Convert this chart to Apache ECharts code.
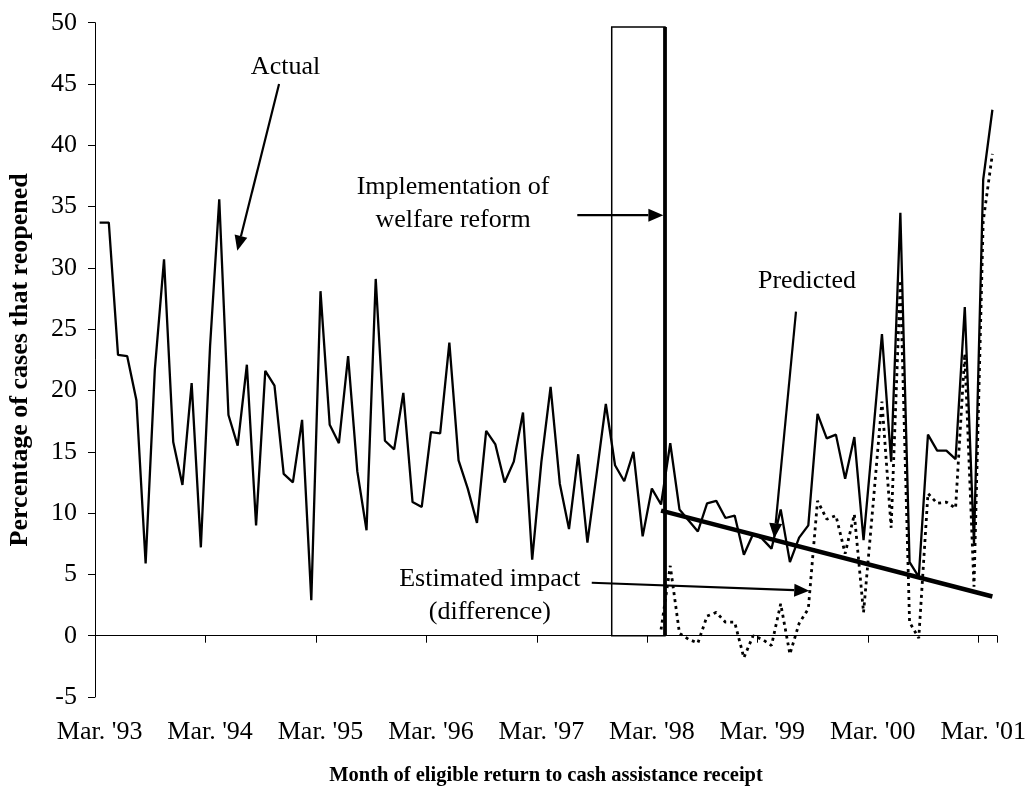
<!DOCTYPE html>
<html><head><meta charset="utf-8">
<script src="https://cdn.jsdelivr.net/npm/echarts@6/dist/echarts.min.js"></script>
<style>html,body{margin:0;padding:0;background:#fff}#c{width:1028px;height:795px}</style>
</head><body><div id="c"></div><script>
// ---- data ----
const tickLabels = ["Mar. '93","Mar. '94","Mar. '95","Mar. '96","Mar. '97","Mar. '98","Mar. '99","Mar. '00","Mar. '01"];
const monthAbbr = ["Mar.","Apr.","May","Jun.","Jul.","Aug.","Sep.","Oct.","Nov.","Dec.","Jan.","Feb."];
const actual = [
  33.7,33.7,22.9,22.8,19.2,5.9,21.7,30.7,15.8,12.3,20.6,7.2,
  23.6,35.6,18.0,15.5,22.1,9.0,21.6,20.4,13.2,12.5,17.6,2.9,
  28.1,17.2,15.7,22.8,13.4,8.6,29.1,15.9,15.2,19.8,10.9,10.5,
  16.6,16.5,23.9,14.3,12.0,9.2,16.7,15.6,12.5,14.2,18.2,6.2,
  14.2,20.3,12.4,8.7,14.8,7.6,13.2,18.9,13.9,12.6,15.0,8.1,
  12.0,10.7,15.7,10.3,9.4,8.5,10.8,11.0,9.6,9.8,6.6,8.3,
  7.9,7.1,10.3,6.0,8.0,9.0,18.1,16.1,16.4,12.8,16.2,7.8,
  16.1,24.6,14.2,34.5,6.0,4.8,16.4,15.1,15.1,14.4,26.8,7.5,
  37.2,42.9
];
const predictedIdx = [61, 97];
const predictedVal = [10.2, 3.2];
const impactStart = 61;
const impact = [
  0.5,5.7,0.2,-0.3,-0.6,1.6,1.9,1.1,1.1,-1.8,0.0,-0.3,
  -0.8,2.6,-1.5,1.0,2.2,11.0,9.5,9.8,6.7,9.9,1.9,10.4,
  19.1,8.8,29.0,1.1,-0.2,11.6,10.8,10.9,10.4,23.0,4.0,33.8,
  39.3
];

// ---- build ----
const cats = actual.map((_, i) => i % 12 === 0 ? tickLabels[i / 12]
  : monthAbbr[i % 12] + " '" + String((93 + Math.floor((i + 2) / 12)) % 100).padStart(2, '0'));
const predSeries = actual.map(() => null);
predictedIdx.forEach((k, j) => { predSeries[k] = predictedVal[j]; });
const impactSeries = actual.map((_, i) => i >= impactStart ? impact[i - impactStart] : null);

const FONT = '"Liberation Serif","Times New Roman",serif';
const chart = echarts.init(document.getElementById('c'), null, {renderer: 'canvas'});
const option = {
  animation: false,
  backgroundColor: '#fff',
  grid: {left: 95, right: 31, top: 22.7, bottom: 98, containLabel: false, outerBoundsMode: 'none'},
  xAxis: [{
    type: 'category', data: cats, boundaryGap: true, position: 'bottom',
    axisLine: {show: false, onZero: false}, axisTick: {show: false},
    axisLabel: {interval: 11, fontSize: 26, fontFamily: FONT, color: '#000', margin: 22},
    name: 'Month of eligible return to cash assistance receipt',
    nameLocation: 'middle', nameGap: 68,
    nameTextStyle: {fontSize: 20.5, fontWeight: 'bold', fontFamily: FONT, color: '#000'}
  }, {
    type: 'category', data: cats, boundaryGap: true, position: 'top',
    axisLine: {show: true, onZero: true, lineStyle: {color: '#000', width: 1}},
    axisTick: {show: true, interval: 11, inside: true, length: 7, lineStyle: {color: '#000'}},
    axisLabel: {show: false}
  }],
  yAxis: {
    type: 'value', min: -5, max: 50, interval: 5,
    axisLine: {show: true, onZero: false, lineStyle: {color: '#000', width: 1}},
    axisTick: {show: true, length: 7, lineStyle: {color: '#000'}},
    splitLine: {show: false},
    axisLabel: {fontSize: 26, fontFamily: FONT, color: '#000', margin: 18},
    name: 'Percentage of cases that reopened', nameLocation: 'middle', nameGap: 62,
    nameTextStyle: {fontSize: 26, fontWeight: 'bold', fontFamily: FONT, color: '#000'}
  },
  series: [{
    name: 'Actual', type: 'line', data: actual, symbol: 'none',
    lineStyle: {color: '#000', width: 2.3}, z: 3
  }, {
    name: 'Predicted', type: 'line', data: predSeries, symbol: 'none', connectNulls: true,
    lineStyle: {color: '#000', width: 4.5}, z: 4
  }, {
    name: 'Estimated impact', type: 'line', data: impactSeries, symbol: 'none',
    lineStyle: {color: '#000', width: 2.8, type: [3, 4]}, z: 2
  }]
};
chart.setOption(option);

// ---- annotations (positions in data units: [category index, value]) ----
const ann = {
  actualText: [20.2, 46.4], actualFrom: [19.5, 45.0], actualTo: [14.96, 31.4],
  implText: [38.4, 35.2], implFrom: [51.9, 34.3], implTo: [61.25, 34.3],
  boxLeft: 55.64, boxRight: 61.43, boxTop: 49.65,
  predText: [76.86, 28.9], predFrom: [75.66, 26.43], predTo: [73.3, 7.94],
  estText: [42.4, 3.24], estFrom: [53.47, 4.32], estTo: [77.1, 3.67]
};
const xa = chart.convertToPixel({xAxisIndex: 0}, 0);
const xb = chart.convertToPixel({xAxisIndex: 0}, 97);
const px = f => xa + (xb - xa) * f / 97;
const py = v => chart.convertToPixel({yAxisIndex: 0}, v);
const P = p => [px(p[0]), py(p[1])];

function arrow(a, b) {
  const [x1, y1] = P(a), [x2, y2] = P(b);
  const dx = x2 - x1, dy = y2 - y1, L = Math.hypot(dx, dy);
  const ux = dx / L, uy = dy / L, hl = 15, hw = 6.5;
  const bx = x2 - ux * hl, by = y2 - uy * hl;
  return [
    {type: 'line', shape: {x1, y1, x2: bx, y2: by}, style: {stroke: '#000', lineWidth: 2.2}, z: 10},
    {type: 'polygon', shape: {points: [[x2, y2], [bx - uy * hw, by + ux * hw], [bx + uy * hw, by - ux * hw]]},
     style: {fill: '#000'}, z: 10}
  ];
}
function label(p, text) {
  const [x, y] = P(p);
  return {type: 'text', x, y, z: 10,
    style: {text, fontSize: 26, fontFamily: FONT, fill: '#000', align: 'center', textAlign: 'center',
      verticalAlign: 'middle', textVerticalAlign: 'middle', lineHeight: 33}};
}
const bl = px(ann.boxLeft), br = px(ann.boxRight), bt = py(ann.boxTop), bb = py(0);
const els = [
  {type: 'rect', shape: {x: bl, y: bt, width: br - bl, height: bb - bt},
   style: {fill: 'none', stroke: '#000', lineWidth: 1.5}, z: 9},
  {type: 'line', shape: {x1: br, y1: bt, x2: br, y2: bb}, style: {stroke: '#000', lineWidth: 3.8}, z: 9},
  label(ann.actualText, 'Actual'),
  label(ann.implText, 'Implementation of\nwelfare reform'),
  label(ann.predText, 'Predicted'),
  label(ann.estText, 'Estimated impact\n(difference)'),
  ...arrow(ann.actualFrom, ann.actualTo),
  ...arrow(ann.implFrom, ann.implTo),
  ...arrow(ann.predFrom, ann.predTo),
  ...arrow(ann.estFrom, ann.estTo)
];
chart.setOption({graphic: els});
</script></body></html>
